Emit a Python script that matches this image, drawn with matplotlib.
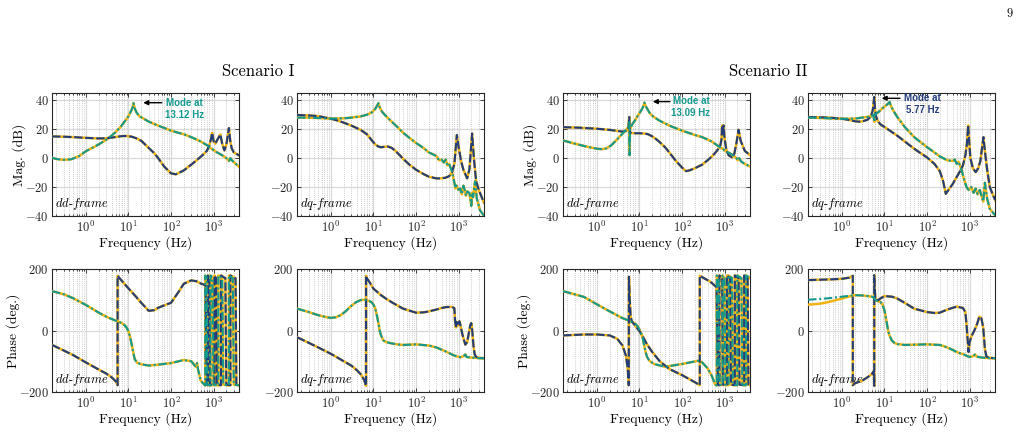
import numpy as np
import matplotlib
matplotlib.use('Agg')
import matplotlib.pyplot as plt
from matplotlib.ticker import LogLocator, NullFormatter

plt.rcParams.update({
    'font.family': 'serif', 'font.serif': ['cmr10'], 'mathtext.fontset': 'cm',
    'axes.formatter.use_mathtext': True, 'axes.unicode_minus': False,
})

YELLOW = '#EFB414'
BLUE = '#233D7A'
TEAL = '#14998D'

# ---------------- magnitude data (dB) ----------------
p1_blue_f = [0.16, 0.3, 0.6, 1, 2, 3, 5, 7, 9, 12, 15, 20, 30, 40, 50, 70, 100, 130, 200, 300, 400, 550, 700, 800, 870, 930, 1000, 1100, 1250, 1450, 1600, 1800, 2000, 2300, 2500, 2700, 3000, 4000]
p1_blue_v = [15, 14.8, 14.4, 14, 13.6, 13.7, 14.6, 15.2, 15.3, 14.8, 13.8, 12, 7, 3.5, 0, -6, -10.5, -11.2, -8.5, -4.5, -1.5, 2, 5, 9, 13, 17.5, 12, 10, 13, 16.4, 10, 5.3, 9, 20.8, 11, 6.5, 4, 1.8]
p1_teal_f = [0.16, 0.2, 0.3, 0.45, 0.7, 1, 1.5, 2, 3, 4, 5, 6.5, 8, 10, 11.5, 12.5, 13.1, 14, 15.5, 18, 22, 30, 45, 70, 100, 150, 200, 300, 500, 700, 900, 1200, 1600, 2000, 2300, 2500, 2700, 3200, 4000]
p1_teal_v = [0.2, -0.6, -1.2, -0.8, 1.5, 4.8, 7.5, 9.5, 12.7, 15.5, 18, 21.5, 25, 29, 32.5, 35, 38, 34.5, 31.5, 29, 27.5, 25.2, 23, 20.8, 19, 17.5, 16.5, 14.5, 11.5, 9, 6.5, 4, 2, 0, -2, 0, -1.5, -3.5, -6]

p2_blue_f = [0.16, 0.3, 0.5, 1, 1.5, 2, 3, 5, 7, 9, 11, 13, 15, 18, 22, 27, 33, 40, 50, 70, 100, 150, 200, 300, 400, 500, 600, 700, 800, 915, 1000, 1150, 1300, 1600, 1800, 1950, 2090, 2300, 2600, 3000, 4000]
p2_blue_v = [29.8, 29.5, 29, 27.2, 25.8, 24.5, 22.5, 19.5, 16.5, 12.5, 9.5, 8, 7.5, 7.8, 8, 7, 5, 2.5, -0.5, -4.5, -8, -11, -12.8, -14, -14, -13.5, -12.5, -10, -4, 16, 8, -2, -8, -14, -8, 5, 17, 0, -16, -22, -31]
p2_teal_f = [0.16, 0.3, 0.6, 1, 2, 3, 5, 7, 9, 11, 12.3, 13.1, 14, 16, 19, 25, 35, 50, 70, 100, 150, 200, 300, 350, 400, 450, 500, 550, 600, 700, 800, 850, 900, 1000, 1100, 1200, 1300, 1400, 1500, 1600, 1800, 1900, 2000, 2100, 2200, 2450, 2700, 3200, 4000]
p2_teal_v = [28, 28, 27.6, 27.3, 27.5, 28, 28.8, 30, 31.5, 34, 36.5, 38, 35, 32, 29.5, 26, 22, 17.5, 14, 10.5, 7, 4, 1.5, -1.5, -1, -3, -1, -5, -4, -9, -17, -21, -19, -22, -21, -25, -19, -22, -26, -23, -24, -28, -33, -24, -27, -16, -28, -36, -40]

p3_blue_f = [0.16, 0.4, 1, 2, 3, 4, 5, 5.5, 5.75, 5.85, 5.95, 6.2, 7, 8, 10, 13, 16, 20, 25, 30, 40, 50, 70, 100, 124, 150, 200, 300, 400, 500, 600, 700, 800, 850, 880, 910, 950, 1000, 1100, 1250, 1500, 1700, 1900, 2140, 2400, 3000, 4000]
p3_blue_v = [21.4, 21, 20.3, 19.5, 18.8, 18.3, 18.8, 21, 28.4, 22, 17, 17.5, 17.3, 17.2, 17.2, 17, 16.5, 15, 13, 11, 7.5, 4, -1.5, -6.5, -9, -8.5, -7, -4.5, -1.5, 1, 3.5, 6, 9, 13, 22.5, 16, 22.6, 14, 6, 2, 0.5, 3, 10, 19.6, 12, 5, 2]
p3_teal_f = [0.16, 0.3, 0.6, 1, 1.3, 1.7, 2.2, 3, 4, 5, 5.5, 5.75, 5.85, 6, 6.5, 7, 8, 9, 10, 11, 12, 13.1, 14, 16, 18, 22, 30, 50, 100, 200, 300, 500, 700, 900, 1100, 1300, 1600, 1900, 2050, 2200, 2500, 3000, 4000]
p3_teal_v = [12.2, 10, 7.8, 6.5, 6.2, 6.8, 9, 13, 17, 20, 21.5, 25, 2, 20, 22.5, 24, 26.5, 29, 31, 33, 35, 38.4, 36, 33, 30.5, 28.3, 25.8, 22.5, 19, 16, 14.5, 11.5, 8.5, 6.5, 4.5, 3.5, 2, 0, -1.5, 0, -2.5, -4, -5.8]

p4_blue_f = [0.16, 0.5, 1, 1.5, 2, 2.5, 3, 4, 4.8, 5.3, 5.6, 5.77, 5.95, 6.3, 7, 8, 10, 15, 20, 30, 50, 70, 100, 150, 200, 240, 277, 320, 400, 500, 600, 700, 800, 870, 930, 980, 1050, 1200, 1400, 1600, 1800, 1950, 2130, 2300, 2600, 3000, 4000]
p4_blue_v = [28.4, 28, 27.2, 26.3, 25.5, 25.2, 25.4, 26.5, 29, 33, 39, 42.3, 35, 29, 25.5, 23.4, 21.5, 18, 15.5, 11.5, 6.5, 3.5, 0.5, -4, -9, -16, -24.7, -22, -18, -13, -9, -5, 2, 10, 22.6, 12, 0, -7, -9.7, -7, -2, 6, 14.5, 5, -8, -20, -29]
p4_teal_f = [0.16, 0.5, 1, 2, 3, 4, 5, 5.5, 5.8, 6.1, 7, 8, 9, 10, 11, 12, 13.2, 14, 16, 20, 30, 50, 100, 200, 300, 400, 450, 500, 550, 650, 750, 850, 950, 1100, 1250, 1400, 1550, 1750, 1950, 2100, 2300, 2600, 3000, 4000]
p4_teal_v = [28, 27.5, 27.2, 27.3, 28, 28.5, 29, 30, 25, 30.5, 31.5, 33, 34.5, 35.5, 36.5, 37.5, 38.8, 36.5, 33, 28.4, 21.5, 14.5, 7.6, 1.2, -1.5, -2, -1, -4, -2.5, -8, -15, -20, -22, -20, -24, -21, -25, -22, -27, -30, -17, -28, -35, -39.5]

# ---------------- phase data (deg) ----------------
p5_blue_f = [0.16, 0.3, 0.5, 1, 2, 3, 4, 5, 5.55, 5.55, 6, 8, 10, 15, 20, 30, 40, 50, 70, 100, 150, 200, 300, 400, 500, 650, 690, 740, 740, 800, 830, 1050, 1050, 1150, 1200, 1500, 1500, 1900, 2000, 2500, 2500, 3300, 3450, 4000]
p5_blue_v = [-47, -65, -80, -104, -127, -140, -152, -165, -178, 178, 172, 152, 137, 110, 90, 64, 66, 74, 82, 90, 125, 152, 163, 160, 153, 147, -176, -178, 179, 170, -176, -178, 179, 170, -176, -178, 179, 170, -176, -178, 179, 170, -176, -178]
p5_teal_f = [0.16, 0.3, 0.5, 1, 2, 3, 5, 7, 8, 9, 10, 11, 12, 13, 14, 16, 20, 30, 50, 100, 200, 300, 380, 410, 430, 500, 600, 640, 640, 690, 720, 790, 850, 850, 950, 1000, 1200, 1300, 1300, 1600, 1700, 2100, 2300, 2300, 2850, 3000, 3700, 4000]
p5_teal_v = [128, 118, 105, 83, 58, 45, 32, 24, 18, 10, -3, -22, -48, -72, -93, -105, -110, -114, -111, -106, -96, -100, -118, -106, -125, -163, -175, -179, 179, 172, -176, -178, -179, 179, 170, -176, -178, -179, 179, 170, -176, -178, -179, 179, 170, -176, -178, -178]

p6_blue_f = [0.16, 0.3, 0.5, 1, 2, 3, 4, 5, 6, 6.7, 6.7, 7, 8, 10, 15, 20, 30, 50, 100, 150, 200, 300, 400, 500, 700, 800, 830, 870, 900, 950, 1000, 1050, 1100, 1200, 1300, 1450, 1600, 1750, 1900, 2000, 2100, 2250, 2400, 2600, 3000, 4000]
p6_blue_v = [-22, -40, -55, -76, -100, -114, -128, -142, -160, -180, 178, 170, 158, 136, 115, 103, 88, 71, 58, 59, 62, 68, 73, 76, 77, 72, 30, 10, 28, 15, 22, 30, 20, -5, -25, -46, -38, -8, 18, 24, 0, -50, -78, -86, -89, -90]
p6_teal_f = [0.16, 0.3, 0.5, 0.8, 1, 1.3, 1.7, 2.2, 3, 4, 5, 6, 7, 8, 9, 10, 11, 12, 13, 14, 15, 17, 20, 25, 35, 50, 100, 200, 300, 500, 700, 900, 1100, 1300, 1450, 1550, 1700, 2000, 2500, 3000, 4000]
p6_teal_v = [71, 60, 50, 43, 41, 43, 50, 62, 80, 93, 99, 100, 98, 96, 92, 84, 72, 50, 25, 0, -15, -32, -38, -41, -45, -47, -45, -49, -55, -68, -78, -84, -87, -84, -78, -86, -87, -88, -89, -90, -90]

p7_blue_f = [0.16, 0.5, 1, 2, 3, 4, 4.8, 5.3, 5.6, 5.65, 5.9, 6.2, 6.6, 8, 10, 12, 15, 20, 30, 50, 100, 200, 262, 262, 350, 450, 550, 650, 700, 760, 760, 880, 920, 1150, 1150, 1350, 1420, 1750, 1750, 2150, 2250, 2900, 2900, 3500, 3650, 4000]
p7_blue_v = [-16, -13, -13, -16, -27, -49, -82, -125, -178, 175, 100, 45, 30, 15, -2, -20, -45, -70, -100, -125, -145, -168, -178, 178, 168, 160, 150, 140, -176, -178, 179, 170, -176, -178, 179, 170, -176, -178, 179, 170, -176, -178, 179, 170, -176, -178]
p7_teal_f = [0.16, 0.5, 1, 2, 4, 5.5, 6, 7, 8, 9, 10, 11, 12, 13, 14, 15, 17, 22, 40, 100, 250, 300, 400, 500, 600, 660, 660, 730, 760, 900, 900, 1000, 1050, 1250, 1250, 1500, 1580, 2000, 2000, 2500, 2620, 3200, 3200, 3900, 4000]
p7_teal_v = [128, 109, 85, 62, 40, 33, 30, 26, 22, 14, 3, -10, -27, -50, -71, -85, -98, -109, -118, -109, -98, -104, -123, -147, -175, -179, 179, 170, -176, -178, 179, 170, -176, -178, 179, 170, -176, -178, 179, 170, -176, -178, 179, 172, 170]

p8_blue_f = [0.16, 0.5, 1, 1.5, 1.8, 1.8, 2, 3, 4, 5, 5.6, 5.75, 5.75, 5.8, 6.1, 6.5, 7, 8, 10, 15, 20, 30, 50, 100, 150, 200, 300, 500, 700, 800, 850, 900, 950, 1000, 1100, 1300, 1500, 1700, 1900, 2100, 2300, 2500, 3000, 4000]
p8_blue_v = [164, 166, 168, 172, 178, -178, -172, -163, -152, -142, -132, -180, 180, 160, 104, 100, 98, 104, 112, 110, 104, 90, 71, 60, 57, 58, 68, 78, 73, 60, 20, -25, -70, -40, -20, 0, 20, 45, 40, 10, -60, -85, -89, -90]
p8_teal_f = [0.16, 0.5, 1, 2, 3, 4, 5, 5.6, 5.9, 6.5, 7, 8, 9, 10, 11, 12, 13, 15, 17, 20, 30, 50, 100, 200, 300, 400, 500, 600, 700, 800, 900, 1000, 1200, 1350, 1450, 1600, 2000, 3000, 4000]
p8_teal_v = [100, 105, 110, 115, 114, 112, 110, 108, 102, 97, 95, 93, 85, 65, 35, 5, -15, -33, -40, -44, -47, -46, -45, -47, -55, -63, -70, -74, -77, -80, -84, -86, -84, -78, -84, -86, -88, -90, -90]
# reference (solid) trace of the teal curve where it departs at low frequency
p8_teal_ref_f = [0.16, 0.3, 0.5, 1, 1.5, 2]
p8_teal_ref_v = [84, 87, 93, 104, 111, 115]

mag_panels = [(p1_blue_f, p1_blue_v, p1_teal_f, p1_teal_v),
              (p2_blue_f, p2_blue_v, p2_teal_f, p2_teal_v),
              (p3_blue_f, p3_blue_v, p3_teal_f, p3_teal_v),
              (p4_blue_f, p4_blue_v, p4_teal_f, p4_teal_v)]
phase_panels = [(p5_blue_f, p5_blue_v, p5_teal_f, p5_teal_v),
                (p6_blue_f, p6_blue_v, p6_teal_f, p6_teal_v),
                (p7_blue_f, p7_blue_v, p7_teal_f, p7_teal_v),
                (p8_blue_f, p8_blue_v, p8_teal_f, p8_teal_v)]
frames = ['dd', 'dq', 'dd', 'dq']

W, H = 1034, 433
fig = plt.figure(figsize=(W / 100, H / 100), dpi=100)
lefts = [52, 297, 563, 808]
AW, AH = 187, 123


def style(ax, ylim, yticks):
    ax.set_xscale('log')
    ax.set_xlim(0.159, 3979)
    ax.set_ylim(*ylim)
    ax.set_yticks(yticks)
    ax.set_xticks([1, 10, 100, 1000])
    ax.xaxis.set_minor_locator(LogLocator(base=10, subs=np.arange(2, 10), numticks=20))
    ax.xaxis.set_minor_formatter(NullFormatter())
    ax.grid(True, which='major', color='#d9d9d9', lw=0.9)
    ax.grid(True, which='minor', axis='x', color='#bdbdbd', lw=0.6, ls=(0, (1, 1.5)))
    ax.yaxis.grid(False, which='minor')
    ax.set_axisbelow(True)
    ax.tick_params(which='both', direction='in', top=True, right=True,
                   labelsize=9, pad=2.5, width=0.6, colors='#262626')
    ax.tick_params(which='major', length=3)
    ax.tick_params(which='minor', length=1.5)
    for s in ax.spines.values():
        s.set_linewidth(0.8)
        s.set_color('#262626')
    ax.set_xlabel('Frequency (Hz)', fontsize=9.8, labelpad=1)


def draw(ax, bf, bv, tf, tv, yf=None, yv=None):
    ax.plot(bf, bv, color=YELLOW, lw=1.8, zorder=3)
    ax.plot(yf if yf is not None else tf, yv if yv is not None else tv,
            color=YELLOW, lw=1.8, zorder=3)
    ax.plot(bf, bv, color=BLUE, lw=1.5, ls=(0, (4, 1.3)), zorder=4)
    ax.plot(tf, tv, color=TEAL, lw=1.5, ls=(0, (4, 1.3, 1, 1.3)), zorder=5)


def frame_label(ax, fr):
    ax.text(0.018, 0.1, r'$\mathit{%s}$-$\mathit{frame}$' % fr, transform=ax.transAxes,
            fontsize=9, ha='left', va='center', zorder=2.5)


axes_top = []
for i, (bf, bv, tf, tv) in enumerate(mag_panels):
    ax = fig.add_axes([lefts[i] / W, (H - 216) / H, AW / W, AH / H])
    style(ax, (-40, 45), [-40, -20, 0, 20, 40])
    draw(ax, bf, bv, tf, tv)
    frame_label(ax, frames[i])
    if i in (0, 2):
        ax.set_ylabel('Mag. (dB)', fontsize=9.8)
        ax.yaxis.set_label_coords(-0.139, 0.5)
    axes_top.append(ax)

for i, (bf, bv, tf, tv) in enumerate(phase_panels):
    ax = fig.add_axes([lefts[i] / W, (H - 392) / H, AW / W, AH / H])
    style(ax, (-200, 200), [-200, 0, 200])
    if i == 3:
        yf = p8_teal_ref_f + [f for f in tf if f > 2]
        yv = p8_teal_ref_v + [v for f, v in zip(tf, tv) if f > 2]
        draw(ax, bf, bv, tf, tv, yf, yv)
    else:
        draw(ax, bf, bv, tf, tv)
    frame_label(ax, frames[i])
    if i in (0, 2):
        ax.set_ylabel('Phase (deg.)', fontsize=9.8)
        ax.yaxis.set_label_coords(-0.172, 0.5)

# annotations
arrow_kw = dict(arrowstyle='-|>', color='black', lw=1.0, mutation_scale=7, shrinkA=0, shrinkB=0)
ann = [(0, 0.488, 0.587, 0.921, 0.709, 0.87, 'Mode at\n13.12 Hz', TEAL),
       (2, 0.480, 0.572, 0.930, 0.684, 0.886, 'Mode at\n13.09 Hz', TEAL),
       (3, 0.394, 0.492, 0.957, 0.612, 0.91, 'Mode at\n5.77 Hz', BLUE)]
for idx, hx, tx, ay, cx, cy, txt, col in ann:
    ax = axes_top[idx]
    ax.annotate('', xy=(hx, ay), xytext=(tx, ay), xycoords='axes fraction',
                textcoords='axes fraction', arrowprops=arrow_kw, zorder=6)
    ax.text(cx, cy, txt, transform=ax.transAxes, ha='center', va='center',
            fontsize=7, fontweight='bold', color=col, family='Liberation Sans',
            linespacing=1.25, zorder=6)

fig.text(258 / W, 1 - 71.7 / H, 'Scenario I', ha='center', va='center', fontsize=12)
fig.text(768 / W, 1 - 71.7 / H, 'Scenario II', ha='center', va='center', fontsize=12)
fig.text(1010 / W, 1 - 14 / H, '9', ha='center', va='center', fontsize=9)

fig.savefig('out.png', dpi=100)
